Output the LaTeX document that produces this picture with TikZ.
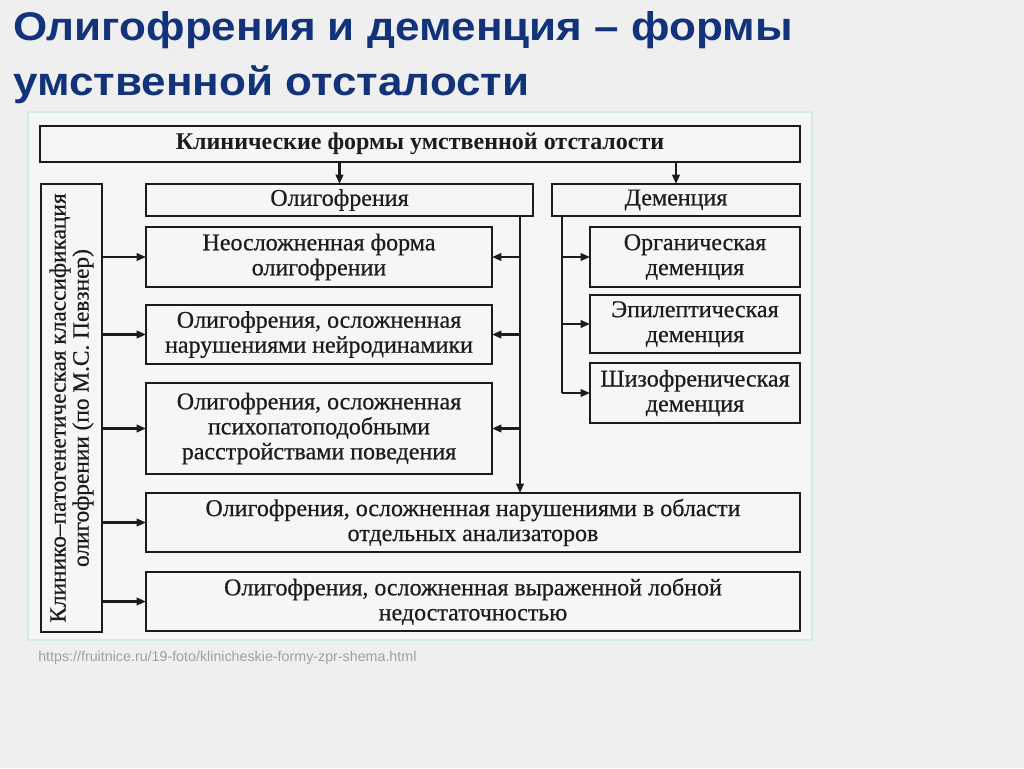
\documentclass[tikz,border=0pt]{standalone}
\usepackage{fontspec}
\setmainfont{Liberation Serif}
\newfontfamily\boxfont[FakeBold=0.6]{Liberation Serif}
\newfontfamily\titlefont[FakeStretch=1.1]{Liberation Sans}
\newfontfamily\urlfont{Liberation Sans}
\usetikzlibrary{arrows.meta}
\definecolor{pagebg}{RGB}{239,239,239}
\definecolor{scanbg}{RGB}{245,246,246}
\definecolor{scanedge}{RGB}{214,234,236}
\definecolor{titleblue}{RGB}{18,50,122}
\definecolor{urlgray}{RGB}{160,160,160}
\definecolor{ink}{RGB}{28,28,28}
\begin{document}
\begin{tikzpicture}[x=0.75pt,y=-0.75pt,
  box/.style={draw=ink, line width=1.9pt, inner sep=0pt, outer sep=0pt, align=center,
    font=\boxfont\fontsize{18}{18.75}\selectfont, text=ink},
  arr/.style={draw=ink, line width=1.7pt, -{Triangle[length=7pt,width=5.6pt]}},
  ln/.style={draw=ink, line width=1.7pt},
  titletext/.style={anchor=base west, inner sep=0pt, text=titleblue,
    font=\titlefont\bfseries\fontsize{30}{33}\selectfont}]
\useasboundingbox[fill=pagebg] (0,0) rectangle (1024,768);
\fill[scanbg] (28,112) rectangle (812,640);
\draw[scanedge, line width=0.8pt] (28,112) rectangle (812,640);

% title
\node[titletext] (t1) at (13,40) {Олигофрения и деменция – формы};
\node[titletext] (t2) at (13,95) {умственной отсталости};

% boxes
\node[box, minimum width=570pt, minimum height=27pt, font=\bfseries\fontsize{18}{18.75}\selectfont] (top) at (420,144) {Клинические формы умственной отсталости};
\node[box, minimum width=290.25pt, minimum height=24pt] (olig) at (339.5,200) {Олигофрения};
\node[box, minimum width=186pt, minimum height=24pt] (dem) at (676,200) {Деменция};
\node[box, minimum width=45.75pt, minimum height=336pt] (left) at (71.5,408) {};
\node[rotate=90, align=center, inner sep=0pt, text=ink, font=\boxfont\fontsize{17.5}{17.25}\selectfont] (lefttext) at (left.center) {Клинико–патогенетическая классификация\\олигофрении (по М.С. Певзнер)};
\node[box, minimum width=259.5pt, minimum height=45pt] (neo) at (319,257) {Неосложненная форма\\олигофрении};
\node[box, minimum width=259.5pt, minimum height=44.25pt] (neuro) at (319,334.5) {Олигофрения, осложненная\\нарушениями нейродинамики};
\node[box, minimum width=259.5pt, minimum height=68.25pt] (psy) at (319,428.5) {Олигофрения, осложненная\\психопатоподобными\\расстройствами поведения};
\node[box, minimum width=490.5pt, minimum height=44.25pt] (anal) at (473,522.5) {Олигофрения, осложненная нарушениями в области\\отдельных анализаторов};
\node[box, minimum width=490.5pt, minimum height=44.25pt] (lobe) at (473,601.5) {Олигофрения, осложненная выраженной лобной\\недостаточностью};
\node[box, minimum width=157.5pt, minimum height=45pt] (org) at (695,257) {Органическая\\деменция};
\node[box, minimum width=157.5pt, minimum height=43.5pt] (epi) at (695,324) {Эпилептическая\\деменция};
\node[box, minimum width=157.5pt, minimum height=45pt] (sch) at (695,393) {Шизофреническая\\деменция};

% connectors from top
\draw[arr] (olig.north |- top.south) -- (olig.north);
\draw[arr] (dem.north |- top.south) -- (dem.north);

% oligophrenia branch
\coordinate (ov) at (520,216);
\draw[arr] (ov) -- (ov |- anal.north);
\draw[arr] (ov |- neo.east) -- (neo.east);
\draw[arr] (ov |- neuro.east) -- (neuro.east);
\draw[arr] (ov |- psy.east) -- (psy.east);

% dementia branch
\coordinate (dv) at (562,216);
\draw[ln] (dv) -- (dv |- sch.west);
\draw[arr] (dv |- org.west) -- (org.west);
\draw[arr] (dv |- epi.west) -- (epi.west);
\draw[arr] (dv |- sch.west) -- (sch.west);

% left classification arrows
\draw[arr] (left.east |- neo.west) -- (neo.west);
\draw[arr] (left.east |- neuro.west) -- (neuro.west);
\draw[arr] (left.east |- psy.west) -- (psy.west);
\draw[arr] (left.east |- anal.west) -- (anal.west);
\draw[arr] (left.east |- lobe.west) -- (lobe.west);

% source
\node[anchor=base west, inner sep=0pt, text=urlgray, font=\urlfont\fontsize{10.7}{12}\selectfont] (url) at (38,661) {https://fruitnice.ru/19-foto/klinicheskie-formy-zpr-shema.html};
\end{tikzpicture}
\end{document}
